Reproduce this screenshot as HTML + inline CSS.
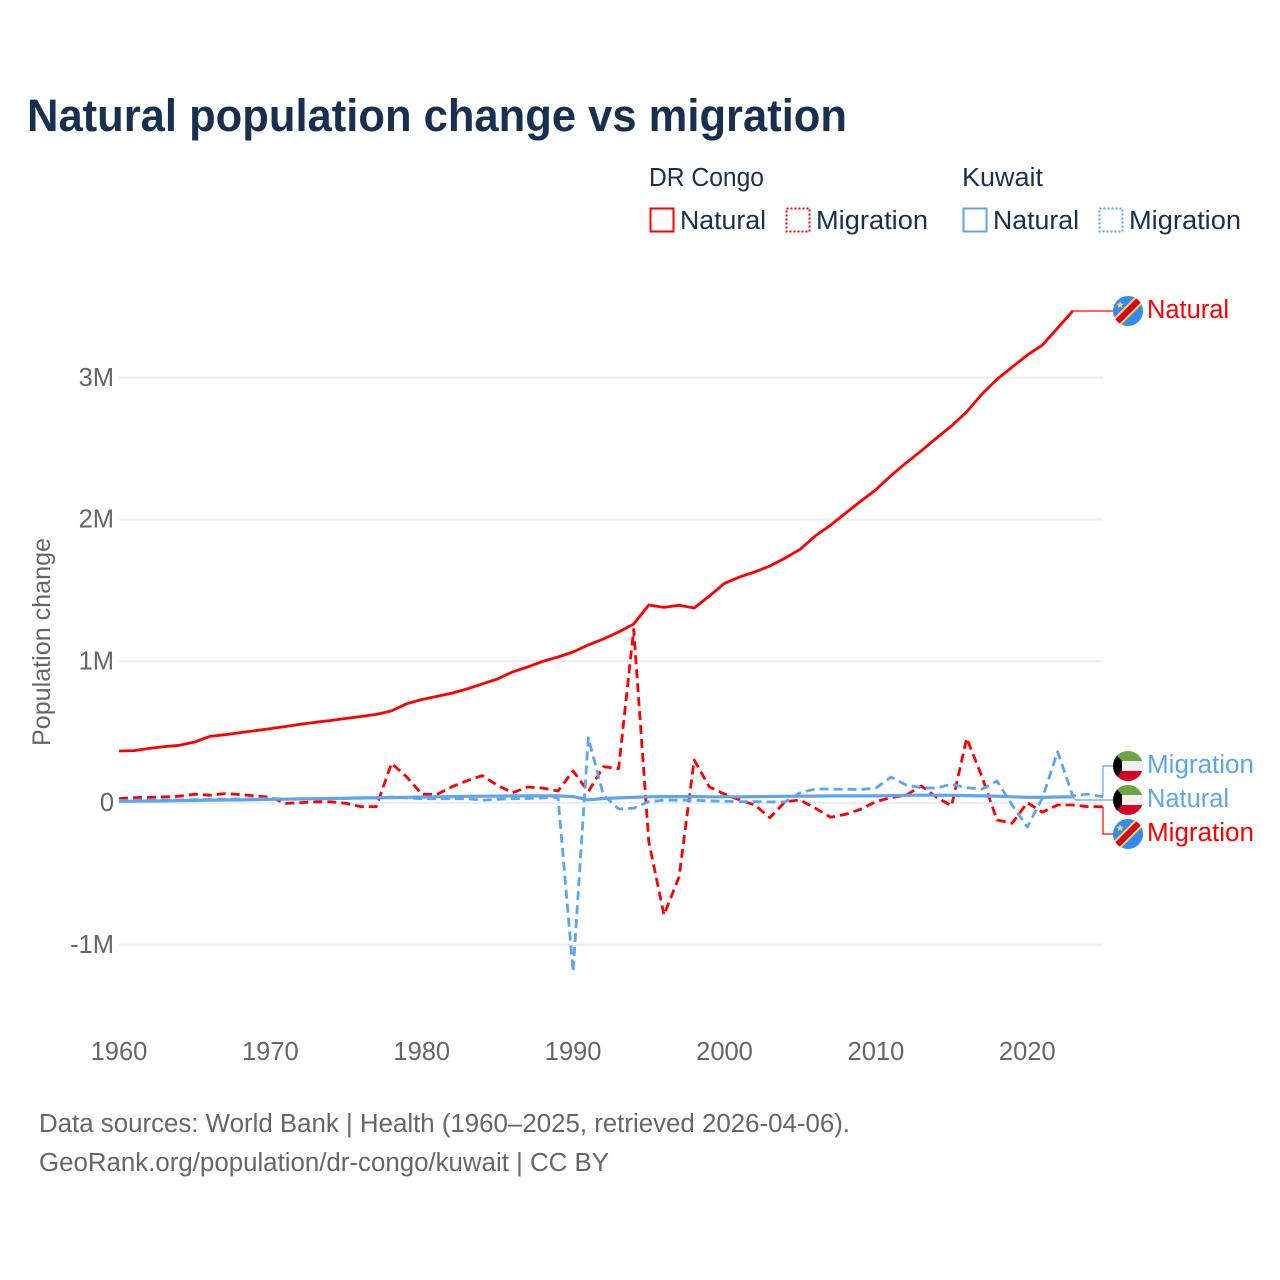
<!DOCTYPE html>
<html lang="en">
<head>
<meta charset="utf-8">
<title>Natural population change vs migration</title>
<style>
html,body{margin:0;padding:0;background:#fff;}
svg{display:block;font-family:"Liberation Sans",sans-serif;}
</style>
</head>
<body>
<svg id="chart" xmlns="http://www.w3.org/2000/svg" width="1280" height="1280" viewBox="0 0 1280 1280">
  <defs>
    <clipPath id="flag-clip-1"><circle cx="1128" cy="311" r="15"/></clipPath>
    <clipPath id="flag-clip-2"><circle cx="1128" cy="766" r="15"/></clipPath>
    <clipPath id="flag-clip-3"><circle cx="1128" cy="800" r="15"/></clipPath>
    <clipPath id="flag-clip-4"><circle cx="1128" cy="834" r="15"/></clipPath>
  </defs>
  <rect width="1280" height="1280" fill="#fff"/>

  <text x="27" y="131" font-size="45" font-weight="700" fill="#17304f" textLength="820" lengthAdjust="spacingAndGlyphs">Natural population change vs migration</text>

  <g font-size="25.5" fill="#17304f">
    <text x="649" y="186" textLength="115" lengthAdjust="spacingAndGlyphs">DR Congo</text>
    <text x="962" y="186" textLength="81" lengthAdjust="spacingAndGlyphs">Kuwait</text>
    <rect x="650.5" y="208.5" width="23" height="23" fill="none" stroke="#ff0000" stroke-width="2"/>
    <text x="680" y="229" textLength="86" lengthAdjust="spacingAndGlyphs">Natural</text>
    <rect x="786.5" y="208.5" width="23" height="23" fill="none" stroke="#ff0000" stroke-width="2" stroke-dasharray="2 2"/>
    <text x="816" y="229" textLength="112" lengthAdjust="spacingAndGlyphs">Migration</text>
    <rect x="963.5" y="208.5" width="23" height="23" fill="none" stroke="#5da5ee" stroke-width="2"/>
    <text x="993" y="229" textLength="86" lengthAdjust="spacingAndGlyphs">Natural</text>
    <rect x="1099.5" y="208.5" width="23" height="23" fill="none" stroke="#5da5ee" stroke-width="2" stroke-dasharray="2 2"/>
    <text x="1129" y="229" textLength="112" lengthAdjust="spacingAndGlyphs">Migration</text>
  </g>

  <text transform="translate(50,642) rotate(-90)" text-anchor="middle" font-size="25" fill="#666" textLength="208" lengthAdjust="spacingAndGlyphs">Population change</text>

  <g id="grid"></g>
  <g id="y-ticks"></g>
  <g id="x-ticks"></g>
  <g id="leaders"></g>
  <g id="series"></g>

  <g clip-path="url(#flag-clip-1)">
    <rect x="1113" y="296" width="30" height="30" fill="#338af3"/>
    <line x1="1113" y1="326" x2="1143" y2="296" stroke="#ffda44" stroke-width="10"/>
    <line x1="1113" y1="326" x2="1143" y2="296" stroke="#d80027" stroke-width="6"/>
    <polygon points="1120,301 1121,303.6 1123.8,303.7 1121.6,305.4 1122.4,308 1120,306.5 1117.6,308 1118.4,305.4 1116.2,303.7 1119,303.6" fill="#ffda44"/>
  </g>
  <g clip-path="url(#flag-clip-2)">
    <rect x="1113" y="751" width="30" height="10" fill="#6da544"/>
    <rect x="1113" y="761" width="30" height="10" fill="#f0f0f0"/>
    <rect x="1113" y="771" width="30" height="10" fill="#d80027"/>
    <polygon points="1113,751 1122,761 1122,771 1113,781" fill="#000"/>
  </g>
  <g clip-path="url(#flag-clip-3)">
    <rect x="1113" y="785" width="30" height="10" fill="#6da544"/>
    <rect x="1113" y="795" width="30" height="10" fill="#f0f0f0"/>
    <rect x="1113" y="805" width="30" height="10" fill="#d80027"/>
    <polygon points="1113,785 1122,795 1122,805 1113,815" fill="#000"/>
  </g>
  <g clip-path="url(#flag-clip-4)">
    <rect x="1113" y="819" width="30" height="30" fill="#338af3"/>
    <line x1="1113" y1="849" x2="1143" y2="819" stroke="#ffda44" stroke-width="10"/>
    <line x1="1113" y1="849" x2="1143" y2="819" stroke="#d80027" stroke-width="6"/>
    <polygon points="1120,824 1121,826.6 1123.8,826.7 1121.6,828.4 1122.4,831 1120,829.5 1117.6,831 1118.4,828.4 1116.2,826.7 1119,826.6" fill="#ffda44"/>
  </g>

  <g font-size="25.5">
    <text x="1147" y="318" fill="#ff0000" textLength="82" lengthAdjust="spacingAndGlyphs">Natural</text>
    <text x="1147" y="773" fill="#5da5ee" textLength="107" lengthAdjust="spacingAndGlyphs">Migration</text>
    <text x="1147" y="807" fill="#5da5ee" textLength="82" lengthAdjust="spacingAndGlyphs">Natural</text>
    <text x="1147" y="841" fill="#ff0000" textLength="107" lengthAdjust="spacingAndGlyphs">Migration</text>
  </g>

  <g font-size="25.5" fill="#666">
    <text x="39" y="1132" textLength="811" lengthAdjust="spacingAndGlyphs">Data sources: World Bank | Health (1960–2025, retrieved 2026-04-06).</text>
    <text x="39" y="1171" textLength="570" lengthAdjust="spacingAndGlyphs">GeoRank.org/population/dr-congo/kuwait | CC BY</text>
  </g>
</svg>

<script>
var firstYear = 1960;
var xTickYears = [1960, 1970, 1980, 1990, 2000, 2010, 2020];
var yTickValues = [-1, 0, 1, 2, 3];
var yTickLabels = ["-1M", "0", "1M", "2M", "3M"];

var drcNatural = [0.367,0.37,0.385,0.398,0.407,0.43,0.47,0.482,0.497,0.51,0.525,0.54,0.555,0.57,0.582,0.597,0.61,0.625,0.65,0.7,0.73,0.752,0.775,0.805,0.84,0.875,0.925,0.96,1.0,1.03,1.065,1.115,1.157,1.206,1.263,1.397,1.38,1.395,1.376,1.46,1.55,1.595,1.63,1.672,1.728,1.79,1.884,1.96,2.045,2.13,2.21,2.31,2.4,2.485,2.575,2.66,2.76,2.885,2.99,3.075,3.16,3.23,3.35,3.47,null,null];
var drcMigration = [0.03,0.038,0.04,0.043,0.048,0.062,0.055,0.066,0.06,0.05,0.04,-0.003,0.003,0.008,0.008,-0.002,-0.026,-0.026,0.28,0.185,0.063,0.06,0.115,0.157,0.193,0.125,0.073,0.113,0.105,0.085,0.226,0.08,0.256,0.242,1.225,-0.273,-0.79,-0.52,0.303,0.113,0.063,0.021,-0.014,-0.104,0.009,0.021,-0.037,-0.1,-0.08,-0.044,0.01,0.038,0.056,0.12,0.04,-0.02,0.457,0.186,-0.12,-0.143,0.003,-0.065,-0.014,-0.014,-0.026,-0.026];
var kuwaitNatural = [0.012,0.013,0.014,0.015,0.016,0.018,0.02,0.021,0.022,0.024,0.026,0.027,0.029,0.03,0.032,0.034,0.036,0.037,0.038,0.04,0.042,0.044,0.045,0.047,0.048,0.049,0.05,0.05,0.05,0.05,0.045,0.022,0.032,0.036,0.04,0.044,0.045,0.045,0.045,0.044,0.044,0.044,0.045,0.046,0.047,0.048,0.049,0.05,0.05,0.05,0.05,0.052,0.054,0.055,0.055,0.054,0.052,0.05,0.048,0.044,0.04,0.04,0.042,0.044,null,null];
var kuwaitMigration = [0.018,0.02,0.02,0.022,0.022,0.024,0.025,0.026,0.028,0.03,0.03,0.028,0.026,0.028,0.03,0.032,0.034,0.036,0.042,0.036,0.03,0.03,0.03,0.03,0.02,0.026,0.03,0.032,0.036,0.04,-1.19,0.46,0.056,-0.042,-0.037,0.01,0.02,0.02,0.02,0.015,0.012,0.01,0.01,0.008,0.008,0.073,0.099,0.098,0.097,0.095,0.105,0.183,0.127,0.108,0.105,0.133,0.108,0.098,0.155,-0.014,-0.17,0.035,0.362,0.05,0.063,0.044];

var SVG_NS = "http://www.w3.org/2000/svg";
var RED = "#ff0000";
var BLUE = "#5da5ee";

function xScale(year) { return 119 + (year - 1960) * 15.138; }
function yScale(millions) { return 803 - millions * 141.75; }

function make(tag, parentId) {
  var el = document.createElementNS(SVG_NS, tag);
  document.getElementById(parentId).appendChild(el);
  return el;
}

function lastPoint(values) {
  var last = 0;
  for (var i = 0; i < values.length; i++) { if (values[i] !== null) { last = i; } }
  return [xScale(firstYear + last), yScale(values[last])];
}

function linePath(values) {
  var d = "";
  for (var i = 0; i < values.length; i++) {
    if (values[i] === null) { continue; }
    d += (d ? "L" : "M") + xScale(firstYear + i).toFixed(1) + " " + yScale(values[i]).toFixed(1);
  }
  return d;
}

yTickValues.forEach(function (v, i) {
  var line = make("line", "grid");
  
  
  line.setAttribute("x1", xScale(1960));
  line.setAttribute("x2", xScale(2025));
  line.setAttribute("y1", yScale(v));
  line.setAttribute("y2", yScale(v));
  line.setAttribute("stroke", "#eeeeee");
  line.setAttribute("stroke-width", "2");

  var label = make("text", "y-ticks");
  
  
  label.setAttribute("x", "114");
  label.setAttribute("y", yScale(v) + 8);
  label.setAttribute("text-anchor", "end");
  label.setAttribute("font-size", "25.5");
  label.setAttribute("fill", "#666");
  label.textContent = yTickLabels[i];
});

xTickYears.forEach(function (year) {
  var label = make("text", "x-ticks");
  
  
  label.setAttribute("x", xScale(year));
  label.setAttribute("y", "1060");
  label.setAttribute("text-anchor", "middle");
  label.setAttribute("font-size", "25.5");
  label.setAttribute("fill", "#666");
  label.textContent = String(year);
});

function drawLeader(values, labelY, color, elbowGap) {
  var p = lastPoint(values);
  var d = "M" + p[0].toFixed(1) + " " + p[1].toFixed(1);
  if (elbowGap > 0) {
    d += "L" + (p[0] + elbowGap).toFixed(1) + " " + labelY;
  } else {
    d += "L" + p[0].toFixed(1) + " " + labelY;
  }
  d += "L1113 " + labelY;
  var leader = make("path", "leaders");
  
  
  leader.setAttribute("d", d);
  leader.setAttribute("fill", "none");
  leader.setAttribute("stroke", color);
  leader.setAttribute("stroke-width", "1.2");
}

drawLeader(drcNatural, 311, RED, 0.01);
drawLeader(kuwaitMigration, 766, BLUE, 0);
drawLeader(kuwaitNatural, 800, BLUE, 3);
drawLeader(drcMigration, 834, RED, 0);

function drawSeries(values, color, dashed, width) {
  var path = make("path", "series");
  
  
  path.setAttribute("d", linePath(values));
  path.setAttribute("fill", "none");
  path.setAttribute("stroke", color);
  path.setAttribute("stroke-width", width);
  path.setAttribute("stroke-linejoin", "round");
  if (dashed) { path.setAttribute("stroke-dasharray", "9 5"); }
}

drawSeries(drcNatural, RED, false, 2.8);
drawSeries(drcMigration, RED, true, 2.8);
drawSeries(kuwaitMigration, BLUE, true, 2.8);
drawSeries(kuwaitNatural, BLUE, false, 3.2);
</script>
</body>
</html>
